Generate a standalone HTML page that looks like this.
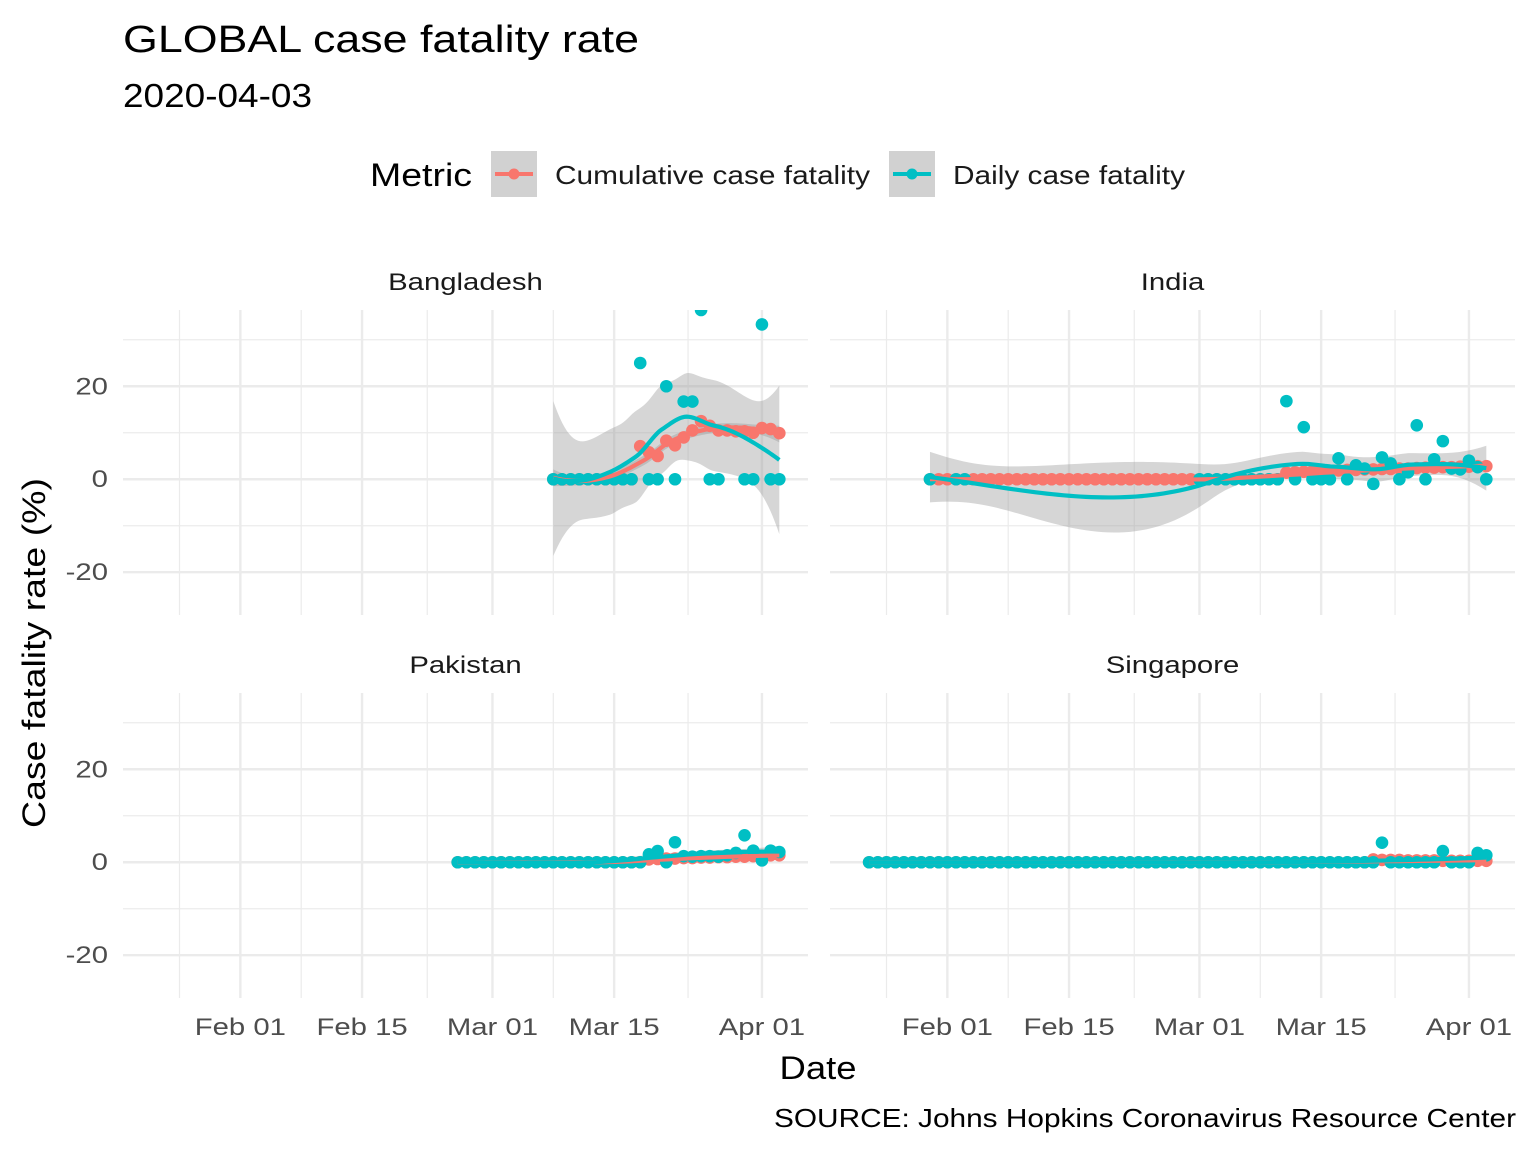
<!DOCTYPE html>
<html><head><meta charset="utf-8"><style>
html,body{margin:0;padding:0;background:#fff;}
svg{display:block;font-family:"Liberation Sans",Arial,sans-serif;}
</style></head><body>
<svg id="chart" width="1536" height="1152" viewBox="0 0 1536 1152" xmlns="http://www.w3.org/2000/svg">
<text x="123" y="52" font-size="38" fill="#000" textLength="516" lengthAdjust="spacingAndGlyphs">GLOBAL case fatality rate</text>
<text x="123" y="107" font-size="33" fill="#000" textLength="189" lengthAdjust="spacingAndGlyphs">2020-04-03</text>
<g>
<text x="370" y="186" font-size="32" fill="#000" textLength="102" lengthAdjust="spacingAndGlyphs">Metric</text>
<g>
<rect x="491" y="151" width="46" height="46" fill="#d1d1d1"/>
<line x1="495" y1="174" x2="533" y2="174" stroke="#F8766D" stroke-width="4"/>
<circle cx="514" cy="174" r="5.5" fill="#F8766D"/>
<text x="555" y="184" font-size="26" fill="#1a1a1a" textLength="315" lengthAdjust="spacingAndGlyphs">Cumulative case fatality</text></g>
<g>
<rect x="889" y="151" width="46" height="46" fill="#d1d1d1"/>
<line x1="893" y1="174" x2="931" y2="174" stroke="#00BFC4" stroke-width="4"/>
<circle cx="912" cy="174" r="5.5" fill="#00BFC4"/>
<text x="953" y="184" font-size="26" fill="#1a1a1a" textLength="232" lengthAdjust="spacingAndGlyphs">Daily case fatality</text></g>
</g>
<text transform="translate(45,653) rotate(-90)" text-anchor="middle" font-size="32" fill="#000" textLength="350" lengthAdjust="spacingAndGlyphs">Case fatality rate (%)</text>
<text x="818" y="1079" text-anchor="middle" font-size="32" fill="#000" textLength="77" lengthAdjust="spacingAndGlyphs">Date</text>
<text x="1516" y="1127" text-anchor="end" font-size="26" fill="#000" textLength="742" lengthAdjust="spacingAndGlyphs">SOURCE: Johns Hopkins Coronavirus Resource Center</text>
<g id="panels"></g>
</svg>
<script>
// day index = days since 2020-02-01
const countries = ["Bangladesh","India","Pakistan","Singapore"];
const bdStart = 36;
const bdCum = [0,0,0,0,0,0,0,0,0,0,7.1,5.8,5.0,8.3,7.3,9.0,10.5,12.5,11.5,10.5,10.5,10.3,10.3,10.0,11.0,10.8,9.9];
const bdDaily = [0,0,0,0,0,0,0,0,0,0,25,0,0,20,0,16.7,16.7,36.4,0,0,null,null,0,0,33.3,0,0];
const inStart = -2;
const inCum = [0,0,0,0,0,0,0,0,0,0,0,0,0,0,0,0,0,0,0,0,0,0,0,0,0,0,0,0,0,0,0,0,0,0,0,0,0,0,0,0,0,
1.4,1.5,1.6,1.7,1.8,1.8,1.9,2.0,2.0,2.1,2.1,2.2,2.2,2.3,2.3,2.4,2.5,2.5,2.6,2.6,2.7,2.7,2.8,2.8];
const inDaily = [0,null,null,0,0,null,null,null,null,null,null,null,null,null,null,null,null,null,null,null,null,null,null,null,null,null,null,null,null,null,null,
0,0,0,0,0,0,0,0,0,0,
16.8,0,11.2,0,0,0,4.5,0,3,2.3,-1,4.7,3.4,0,1.5,11.6,0,4.3,8.2,2.3,2.1,4,2.6,0];
const pkStart = 25;
const pkCum = [0,0,0,0,0,0,0,0,0,0,0,0,0,0,0,0,0,0,0,0,0,0,
0.6,0.7,0.8,0.8,0.9,0.9,1.0,1.0,1.1,1.1,1.2,1.2,1.3,1.4,1.5,1.5];
const pkDaily = [0,0,0,0,0,0,0,0,0,0,0,0,0,0,0,0,0,0,0,0,0,0,
1.7,2.4,0,4.3,1.3,1.2,1.3,1.3,1.2,1.5,2,5.8,2.5,0.4,2.5,2.2];
const sgStart = -9;
const sgCum = [0,0,0,0,0,0,0,0,0,0,0,0,0,0,0,0,0,0,0,0,0,0,0,0,0,0,0,0,0,0,0,0,0,0,0,0,0,0,0,0,0,0,0,0,0,0,0,0,0,0,0,0,0,0,0,0,0,0,
0.6,0.5,0.5,0.5,0.4,0.4,0.4,0.4,0.3,0.3,0.3,0.3,0.3,0.3];
const sgDaily = [0,0,0,0,0,0,0,0,0,0,0,0,0,0,0,0,0,0,0,0,0,0,0,0,0,0,0,0,0,0,0,0,0,0,0,0,0,0,0,0,0,0,0,0,0,0,0,0,0,0,0,0,0,0,0,0,0,0,0,
4.2,0,0,0,0,0,0,2.4,0,0,0,2,1.5];
const xTickDays = [0,14,29,43,60];
const xTickLabels = ["Feb 01","Feb 15","Mar 01","Mar 15","Apr 01"];
const xMinorDays = [-7,7,21.5,36,51.5];
const yTicks = [-20,0,20];
const yMinor = [-10,10,30];

const seriesStart = [bdStart,inStart,pkStart,sgStart];
const seriesCum = [bdCum,inCum,pkCum,sgCum];
const seriesDaily = [bdDaily,inDaily,pkDaily,sgDaily];

const NS="http://www.w3.org/2000/svg";
const panelsG=document.getElementById('panels');
const PX=[123,830], PY=[310,693], PW=685, PH=305;
const D0=-13.5, D1=65.3, V0=-29.2, V1=36.4;
function mk(tag,attrs,parent){const e=document.createElementNS(NS,tag);for(const k in attrs)e.setAttribute(k,attrs[k]);parent.appendChild(e);return e;}

function solve3(A,b){
  const M=A.map((r,i)=>[...r,b[i]]);const n=3;
  for(let i=0;i<n;i++){let p=i;for(let j=i+1;j<n;j++)if(Math.abs(M[j][i])>Math.abs(M[p][i]))p=j;[M[i],M[p]]=[M[p],M[i]];
    const d=M[i][i]||1e-12;for(let j=i;j<=n;j++)M[i][j]/=d;
    for(let k=0;k<n;k++)if(k!==i){const f=M[k][i];for(let j=i;j<=n;j++)M[k][j]-=f*M[i][j];}}
  return M.map(r=>r[n]);
}
// local quadratic: returns [valueWeights, slopeWeights]
function localL(xs,x0,span){
  const n=xs.length;const ds=xs.map(x=>Math.abs(x-x0));
  const q=Math.max(3,Math.floor(span*n));const sd=[...ds].sort((a,b)=>a-b);
  let h=sd[Math.min(q,n)-1];h=Math.max(h,1e-9)*1.0000001;
  const w=ds.map(d=>{const u=d/h;return u<1?Math.pow(1-u*u*u,3):0;});
  const A=[[0,0,0],[0,0,0],[0,0,0]];
  for(let i=0;i<n;i++){const z=[1,xs[i]-x0,(xs[i]-x0)**2];for(let a=0;a<3;a++)for(let b=0;b<3;b++)A[a][b]+=w[i]*z[a]*z[b];}
  for(let a=0;a<3;a++)A[a][a]+=1e-8;
  const c0=solve3(A,[1,0,0]), c1=solve3(A,[0,1,0]);
  const v=xs.map((x,i)=>w[i]*(c0[0]+c0[1]*(x-x0)+c0[2]*(x-x0)**2));
  const s=xs.map((x,i)=>w[i]*(c1[0]+c1[1]*(x-x0)+c1[2]*(x-x0)**2));
  return [v,s];
}
function buildVertices(xs,span){
  const n=xs.length, fc=Math.max(1,Math.floor(n*span*0.2));
  const verts=new Set([xs[0],xs[n-1]]);
  (function split(lo,hi){ // indices inclusive
    const cnt=hi-lo+1; if(cnt<=fc) return;
    const m=Math.floor((lo+hi)/2);
    const v=(xs[m]+xs[m+1])/2;
    if(v<=xs[lo]||v>=xs[hi]) return;
    verts.add(v);
    split(lo,m); split(m+1,hi);
  })(0,n-1);
  return [...verts].sort((a,b)=>a-b);
}
function loess(xs,ys){
  const span=0.75,n=xs.length;
  const verts=buildVertices(xs,span);
  const VL=verts.map(v=>localL(xs,v,span));
  function Lat(x){
    let k=0;while(k<verts.length-2&&x>verts[k+1])k++;
    const a=verts[k],b=verts[k+1],h=b-a,t=h>0?(x-a)/h:0;
    const h00=2*t*t*t-3*t*t+1,h10=t*t*t-2*t*t+t,h01=-2*t*t*t+3*t*t,h11=t*t*t-t*t;
    const A=VL[k],B=VL[k+1];
    return A[0].map((_,i)=>h00*A[0][i]+h10*h*A[1][i]+h01*B[0][i]+h11*h*B[1][i]);
  }
  // residual sigma
  let rss=0,tr=0,trLL=0;
  xs.forEach((x,i)=>{const l=Lat(x);const f=l.reduce((s,v,j)=>s+v*ys[j],0);rss+=(ys[i]-f)**2;tr+=l[i];trLL+=l.reduce((s,v)=>s+v*v,0);});
  const delta=Math.max(1,n-2*tr+trLL);
  const sigma=Math.sqrt(rss/delta);
  const out=[];const lo=xs[0],hi=xs[n-1];
  for(let k=0;k<=100;k++){const x0=lo+(hi-lo)*k/100;const l=Lat(x0);
    const f=l.reduce((s,v,j)=>s+v*ys[j],0);const se=sigma*Math.sqrt(l.reduce((s,v)=>s+v*v,0));
    out.push([x0,f,se*2.1]);}
  return out;
}

countries.forEach((name,ci)=>{
  const ox=PX[ci%2], oy=PY[Math.floor(ci/2)];
  const sx=d=>ox+(d-D0)/(D1-D0)*PW;
  const sy=v=>oy+(V1-v)/(V1-V0)*PH;
  const g=mk('g',{},panelsG);
  
  
  const cid='clip'+ci;
  const cp=mk('clipPath',{id:cid},g);mk('rect',{x:ox,y:oy,width:PW,height:PH},cp);
  const strip=mk('text',{x:ox+PW/2,y:oy-20,'text-anchor':'middle','font-size':24,fill:'#1a1a1a'},g);
  strip.textContent=name;
  
  
  const grid=mk('g',{},g);
  
  
  yMinor.forEach(v=>{if(sy(v)>=oy&&sy(v)<=oy+PH)mk('line',{x1:ox,x2:ox+PW,y1:sy(v),y2:sy(v),stroke:'#ebebeb','stroke-width':1.2},grid);});
  xMinorDays.forEach(d=>mk('line',{x1:sx(d),x2:sx(d),y1:oy,y2:oy+PH,stroke:'#ebebeb','stroke-width':1.2},grid));
  yTicks.forEach(v=>mk('line',{x1:ox,x2:ox+PW,y1:sy(v),y2:sy(v),stroke:'#ebebeb','stroke-width':2.4},grid));
  xTickDays.forEach(d=>mk('line',{x1:sx(d),x2:sx(d),y1:oy,y2:oy+PH,stroke:'#ebebeb','stroke-width':2.4},grid));
  if(ci%2===0){yTicks.forEach(v=>{const t=mk('text',{x:ox-15,y:sy(v)+8,'text-anchor':'end','font-size':24,fill:'#4d4d4d','class':'wide'},g);t.textContent=String(v);
    
    });}
  if(ci>=2){xTickDays.forEach((d,i)=>{const t=mk('text',{x:sx(d),y:oy+PH+37,'text-anchor':'middle','font-size':24,fill:'#4d4d4d','class':'wide'},g);t.textContent=xTickLabels[i];
    
    });}
  strip.setAttribute('class','wide');
  const plot=mk('g',{'clip-path':'url(#'+cid+')'},g);
  const sets=[[seriesCum[ci],'#F8766D','cumulative'],[seriesDaily[ci],'#00BFC4','daily']];
  const fits=sets.map(([vals])=>{const xs=[],ys=[];vals.forEach((v,i)=>{if(v!==null){xs.push(seriesStart[ci]+i);ys.push(v);}});return [xs,ys,loess(xs,ys)];});
  fits.forEach((f,si)=>{const fit=f[2];
    const up=fit.map(p=>sx(p[0])+','+sy(p[1]+p[2])),dn=fit.slice().reverse().map(p=>sx(p[0])+','+sy(p[1]-p[2]));
    const b=mk('polygon',{points:up.concat(dn).join(' '),fill:'#999999','fill-opacity':0.4},plot);
    
    });
  sets.forEach(([vals,col,nm],si)=>{const pg=mk('g',{},plot);
    
    
    vals.forEach((v,i)=>{if(v===null)return;const c=mk('circle',{cx:sx(seriesStart[ci]+i),cy:sy(v),r:6.3,fill:col},pg);
      
      });});
  fits.forEach((f,si)=>{const l=mk('polyline',{points:f[2].map(p=>sx(p[0])+','+sy(p[1])).join(' '),fill:'none',stroke:sets[si][1],'stroke-width':4.2},plot);
    
    });
});
// widen tick/strip labels to match reference glyph widths
document.querySelectorAll('text.wide').forEach(t=>{
  const w=t.getComputedTextLength();
  t.setAttribute('textLength',(w*1.22).toFixed(1));
  t.setAttribute('lengthAdjust','spacingAndGlyphs');
});
</script>
</body></html>
